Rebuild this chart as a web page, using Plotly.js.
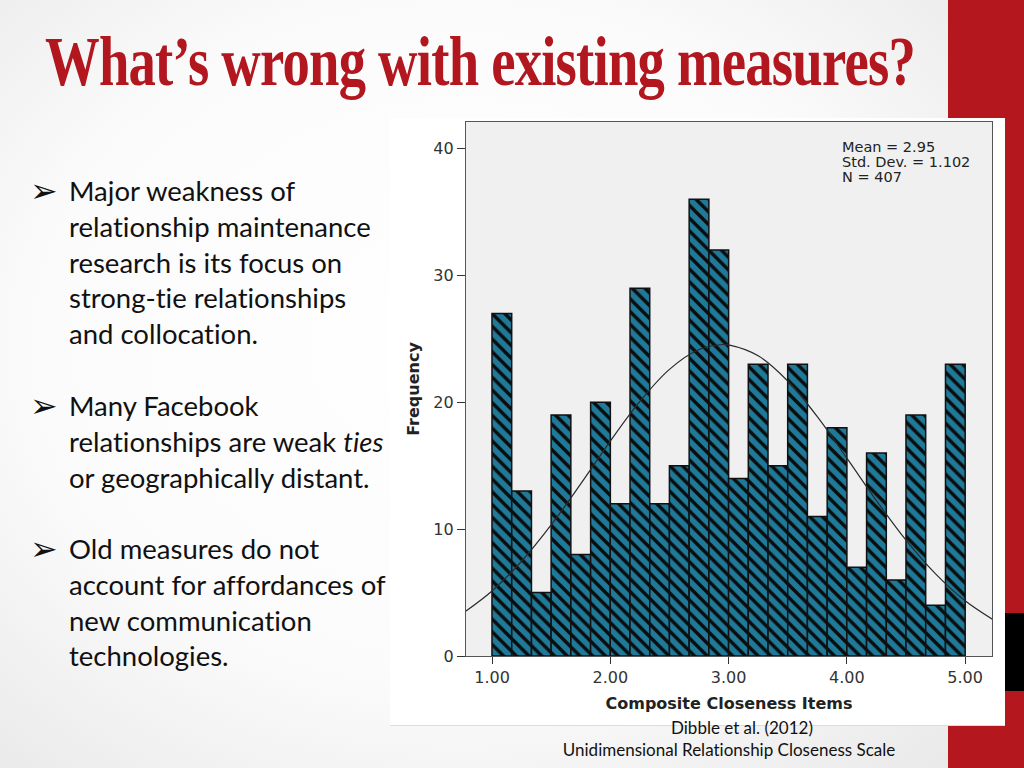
<!DOCTYPE html>
<html>
<head>
<meta charset="utf-8">
<script src="https://cdn.plot.ly/plotly-3.0.1.min.js"></script>
<style>
  html, body { margin: 0; padding: 0; }
  #slide {
    position: relative; width: 1024px; height: 768px; overflow: hidden;
    background: radial-gradient(ellipse 75% 80% at 45% 45%, #ffffff 0%, #fbfbfb 55%, #e6e6e6 100%);
    font-family: Lato, "Open Sans", sans-serif;
    font-variant-ligatures: none;
  }
  #redband { position: absolute; left: 948px; top: 0; width: 76px; height: 768px; background: #b5171f; }
  #blackbox { position: absolute; left: 1005px; top: 613px; width: 19px; height: 78px; background: #000; }
  #title {
    position: absolute; left: 45px; top: 22px; white-space: nowrap;
    font-family: "Liberation Serif", "DejaVu Serif", serif; font-weight: bold;
    font-size: 70px; color: #b2161e; letter-spacing: -1px; transform-origin: 0 0;
  }
  .bl { position: absolute; left: 0; white-space: nowrap; font-size: 27.5px; color: #111; }
  .arrow { position: absolute; left: 30px; top: 0; line-height: 35.8px; font-family: "DejaVu Sans", sans-serif; font-size: 33px; }
  .txt { position: absolute; left: 69px; line-height: 35.8px; }
  #panel { position: absolute; left: 390px; top: 118px; width: 615px; height: 607px; background: #fff; border-bottom: 1px solid #dcdcdc; }
  #chart { position: absolute; left: 390px; top: 118px; width: 615px; height: 607px; }
  .cap { position: absolute; white-space: nowrap; font-size: 17px; color: #111; transform: translateX(-50%); }
</style>
</head>
<body>
<div id="slide">
  <div id="redband"></div>
  <div id="panel"></div>
  <div id="chart"></div>
  <div id="blackbox"></div>
  <div id="title">What’s wrong with existing measures?</div>

  <div class="bl" style="top:173px"><span class="arrow">➢</span>
    <div class="txt">Major weakness of<br>relationship maintenance<br>research is its focus on<br>strong-tie relationships<br>and collocation.</div></div>
  <div class="bl" style="top:388px"><span class="arrow">➢</span>
    <div class="txt">Many Facebook<br>relationships are weak <i>ties</i><br>or geographically distant.</div></div>
  <div class="bl" style="top:531px"><span class="arrow">➢</span>
    <div class="txt">Old measures do not<br>account for affordances of<br>new communication<br>technologies.</div></div>

  <div class="cap" style="left:742px; top:717px">Dibble et al. (2012)</div>
  <div class="cap" style="left:729px; top:739px">Unidimensional Relationship Closeness Scale</div>
</div>
<script>
// Bin midpoints of the histogram (Composite Closeness Items)
const binMid = [1.083, 1.25, 1.417, 1.583, 1.75, 1.917, 2.083, 2.25, 2.417, 2.583, 2.75, 2.917,
                3.083, 3.25, 3.417, 3.583, 3.75, 3.917, 4.083, 4.25, 4.417, 4.583, 4.75, 4.917];
// Frequency per bin
const freq = [27, 13, 5, 19, 8, 20, 12, 29, 12, 15, 36, 32,
              14, 23, 15, 23, 11, 18, 7, 16, 6, 19, 4, 23];
// Normal curve
const curveX = [0.75, 1.0, 1.25, 1.5, 1.75, 2.0, 2.25, 2.5, 2.75, 2.95, 3.0, 3.25, 3.5, 3.75, 4.0, 4.25, 4.5, 4.75, 5.0, 5.25];
const curveY = [3.35, 5.13, 7.47, 10.33, 13.57, 16.94, 20.07, 22.60, 24.16, 24.56, 24.53, 23.67, 21.68, 18.87, 15.60, 12.25, 9.13, 6.47, 4.35, 2.78];
// Axis ticks
const xTickVals = [1, 2, 3, 4, 5];
const xTickText = ["1.00", "2.00", "3.00", "4.00", "5.00"];
const yTickVals = [0, 10, 20, 30, 40];
const yTickText = ["0", "10", "20", "30", "40"];
// Summary statistics
const statLines = ["Mean = 2.95", "Std. Dev. = 1.102", "N = 407"];

const tickFont = { family: "DejaVu Sans, sans-serif", size: 16, color: "#333" };

const traces = [
  {
    type: "bar", x: binMid, y: freq, width: 1/6,
    marker: {
      color: "#1f7a9a",
      line: { color: "#111", width: 1.5 },
      pattern: { shape: "\\", fgcolor: "#0c0c0c", bgcolor: "#1f7a9a", size: 9, solidity: 0.38 }
    },
    hoverinfo: "x+y", showlegend: false
  },
  {
    type: "scatter", mode: "lines", x: curveX, y: curveY,
    line: { color: "#2a2a2a", width: 1.2, shape: "spline" },
    hoverinfo: "skip", showlegend: false
  }
];

const annotations = statLines.map((t, i) => ({
  xref: "paper", yref: "paper", x: 0.711, y: 0.953 - i * 0.028,
  xanchor: "left", yanchor: "middle", showarrow: false, text: t,
  font: { family: "DejaVu Sans, sans-serif", size: 14.5, color: "#222" }
}));

const layout = {
  width: 615, height: 607,
  margin: { l: 76, r: 13, t: 4, b: 69 },
  paper_bgcolor: "rgba(0,0,0,0)",
  plot_bgcolor: "#f0f0f0",
  bargap: 0,
  xaxis: {
    range: [0.78, 5.227], tickvals: xTickVals, ticktext: xTickText,
    showgrid: false, zeroline: false, showline: true, mirror: true,
    linecolor: "#555", linewidth: 1.2, ticks: "outside", ticklen: 7, tickcolor: "#333",
    tickfont: tickFont,
    title: { text: "Composite Closeness Items", standoff: 11,
             font: { family: "DejaVu Sans, sans-serif", size: 16, color: "#222", weight: "bold" } }
  },
  yaxis: {
    range: [0, 42.1], tickvals: yTickVals, ticktext: yTickText,
    showgrid: false, zeroline: false, showline: true, mirror: true,
    linecolor: "#555", linewidth: 1.2, ticks: "outside", ticklen: 8, tickcolor: "#333",
    tickfont: tickFont,
    title: { text: "Frequency", standoff: 9,
             font: { family: "DejaVu Sans, sans-serif", size: 16, color: "#222", weight: "bold" } }
  },
  annotations: annotations
};

Plotly.newPlot("chart", traces, layout, { displayModeBar: false, staticPlot: true });

// Fit the condensed title to its width in the slide
const t = document.getElementById("title");
const w = t.getBoundingClientRect().width;
t.style.transform = "scaleX(" + (870 / w) + ")";
</script>
</body>
</html>
